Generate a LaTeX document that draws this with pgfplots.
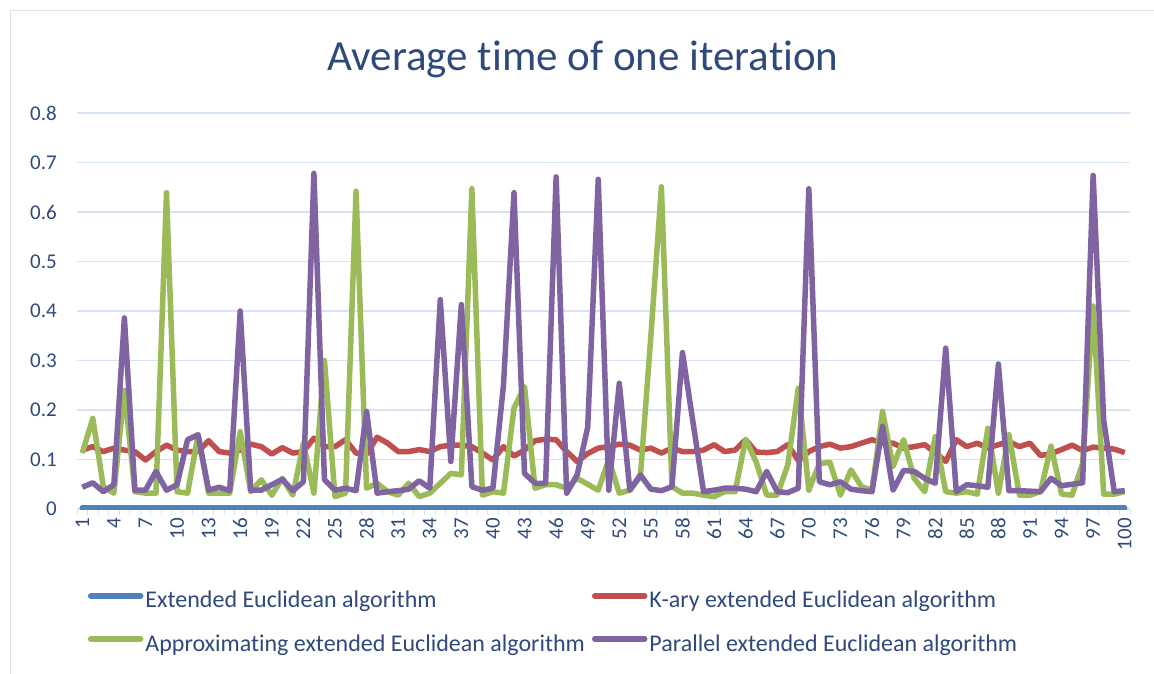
\documentclass[border=0pt]{standalone}
\usepackage{fontspec}
\setmainfont{Carlito}[Ligatures={NoCommon}]
\usepackage{pgfplots}
\pgfplotsset{compat=1.18}
\usepackage{pgfplotstable}
\definecolor{txt}{HTML}{2F4A7A}
\definecolor{gridc}{HTML}{D6E3F5}
\definecolor{bord}{HTML}{D9E2EE}
\definecolor{cblue}{HTML}{4F81BD}
\definecolor{cred}{HTML}{C0504D}
\definecolor{cgreen}{HTML}{9BBB59}
\definecolor{cpurple}{HTML}{8064A2}
\pgfplotstableread{
x ext kary approx par
1 0.002 0.119 0.113 0.044
2 0.002 0.126 0.183 0.053
3 0.002 0.116 0.045 0.035
4 0.002 0.123 0.032 0.049
5 0.002 0.119 0.240 0.386
6 0.002 0.116 0.035 0.038
7 0.002 0.099 0.032 0.038
8 0.002 0.116 0.032 0.076
9 0.002 0.129 0.639 0.038
10 0.002 0.119 0.035 0.049
11 0.002 0.116 0.032 0.140
12 0.002 0.116 0.150 0.150
13 0.002 0.138 0.032 0.038
14 0.002 0.116 0.032 0.044
15 0.002 0.113 0.032 0.037
16 0.002 0.119 0.156 0.400
17 0.002 0.131 0.035 0.038
18 0.002 0.126 0.059 0.038
19 0.002 0.111 0.028 0.049
20 0.002 0.124 0.062 0.060
21 0.002 0.113 0.028 0.037
22 0.002 0.116 0.133 0.055
23 0.002 0.143 0.032 0.678
24 0.002 0.126 0.300 0.059
25 0.002 0.126 0.025 0.038
26 0.002 0.140 0.032 0.042
27 0.002 0.113 0.642 0.037
28 0.002 0.111 0.042 0.197
29 0.002 0.145 0.052 0.032
30 0.002 0.133 0.035 0.035
31 0.002 0.116 0.028 0.037
32 0.002 0.116 0.052 0.040
33 0.002 0.120 0.025 0.057
34 0.002 0.116 0.032 0.042
35 0.002 0.126 0.052 0.423
36 0.002 0.129 0.072 0.096
37 0.002 0.129 0.069 0.413
38 0.002 0.126 0.647 0.045
39 0.002 0.113 0.028 0.038
40 0.002 0.099 0.035 0.042
41 0.002 0.126 0.032 0.250
42 0.002 0.107 0.204 0.639
43 0.002 0.119 0.247 0.072
44 0.002 0.138 0.042 0.052
45 0.002 0.141 0.049 0.052
46 0.002 0.140 0.049 0.671
47 0.002 0.116 0.042 0.032
48 0.002 0.096 0.062 0.069
49 0.002 0.112 0.050 0.165
50 0.002 0.123 0.038 0.666
51 0.002 0.126 0.100 0.038
52 0.002 0.131 0.032 0.254
53 0.002 0.129 0.038 0.038
54 0.002 0.119 0.065 0.069
55 0.002 0.123 0.350 0.040
56 0.002 0.113 0.651 0.037
57 0.002 0.123 0.045 0.045
58 0.002 0.116 0.032 0.316
59 0.002 0.116 0.032 0.175
60 0.002 0.119 0.028 0.035
61 0.002 0.130 0.025 0.038
62 0.002 0.116 0.035 0.042
63 0.002 0.119 0.035 0.042
64 0.002 0.140 0.141 0.040
65 0.002 0.115 0.095 0.035
66 0.002 0.114 0.028 0.076
67 0.002 0.116 0.028 0.035
68 0.002 0.130 0.089 0.033
69 0.002 0.098 0.244 0.042
70 0.002 0.116 0.038 0.647
71 0.002 0.126 0.092 0.055
72 0.002 0.131 0.094 0.049
73 0.002 0.123 0.028 0.055
74 0.002 0.126 0.079 0.040
75 0.002 0.133 0.045 0.037
76 0.002 0.140 0.038 0.035
77 0.002 0.133 0.197 0.167
78 0.002 0.133 0.086 0.038
79 0.002 0.123 0.140 0.078
80 0.002 0.126 0.062 0.076
81 0.002 0.130 0.035 0.062
82 0.002 0.114 0.146 0.052
83 0.002 0.096 0.035 0.325
84 0.002 0.140 0.032 0.035
85 0.002 0.126 0.035 0.049
86 0.002 0.133 0.030 0.047
87 0.002 0.123 0.163 0.044
88 0.002 0.130 0.032 0.293
89 0.002 0.136 0.150 0.037
90 0.002 0.126 0.028 0.037
91 0.002 0.133 0.028 0.036
92 0.002 0.108 0.035 0.035
93 0.002 0.112 0.127 0.062
94 0.002 0.120 0.030 0.047
95 0.002 0.129 0.028 0.050
96 0.002 0.118 0.092 0.053
97 0.002 0.125 0.410 0.674
98 0.002 0.123 0.030 0.180
99 0.002 0.121 0.030 0.035
100 0.002 0.114 0.035 0.037
}\data
\begin{document}
\begin{tikzpicture}[x=1pt,y=1pt]
\path[use as bounding box] (0,0) rectangle (1154,673);
\draw[bord, line width=1pt] (10.5,-10) -- (10.5,662.5) -- (1170,662.5);
\node[anchor=base, text=txt, inner sep=0pt, font=\fontsize{43}{50}\selectfont] at (583,602) {Average time of one iteration};
\begin{axis}[
  at={(77pt,164pt)}, anchor=south west, scale only axis,
  width=1053pt, height=396pt,
  xmin=0.5, xmax=100.5, ymin=0, ymax=0.8,
  axis x line*=bottom, axis y line*=left,
  y axis line style={draw=none},
  x axis line style={draw=gridc, line width=1pt},
  ytick={0,0.1,0.2,0.3,0.4,0.5,0.6,0.7,0.8},
  yticklabels={0,0.1,0.2,0.3,0.4,0.5,0.6,0.7,0.8},
  ymajorgrids, grid style={gridc, line width=1.5pt},
  xtick={1,4,...,100},
  xticklabels={1,4,7,10,13,16,19,22,25,28,31,34,37,40,43,46,49,52,55,58,61,64,67,70,73,76,79,82,85,88,91,94,97,100},
  minor xtick={0.5,1.5,...,100.5},
  major tick length=0pt, minor tick length=6pt, tick align=outside,
  minor tick style={gridc, line width=1pt},
  xticklabel style={yshift=-9pt, rotate=90, anchor=east, inner sep=0pt, font=\fontsize{21}{24}\selectfont, text=txt},
  yticklabel style={anchor=east, inner sep=0pt, xshift=-20pt, font=\fontsize{21}{24}\selectfont, text=txt},
  legend columns=2,
  legend cell align=left,
  legend style={at={(axis description cs:0,0)}, anchor=north west, xshift=10.75pt, yshift=-80pt,
    draw=none, fill=none, inner sep=0pt, font=\fontsize{24}{28}\selectfont, text=txt,
    nodes={inner sep=2pt}, row sep=21pt,
    /tikz/every even column/.append style={column sep=5pt}},
  legend image code/.code={\draw[#1, line width=5.5pt, line cap=round] (0pt,0.45em) -- (50pt,0.45em);},
  every axis plot/.append style={line width=5.5pt, line join=round, mark=none},
]
\addplot[cblue, line cap=round] table[x=x, y=ext] {\data};
\addlegendentry{Extended Euclidean algorithm}
\addplot[cred] table[x=x, y=kary] {\data};
\addlegendentry{K-ary extended Euclidean algorithm}
\addplot[cgreen] table[x=x, y=approx] {\data};
\addlegendentry{Approximating extended Euclidean algorithm}
\addplot[cpurple] table[x=x, y=par] {\data};
\addlegendentry{Parallel extended Euclidean algorithm}
\end{axis}
\end{tikzpicture}
\end{document}
